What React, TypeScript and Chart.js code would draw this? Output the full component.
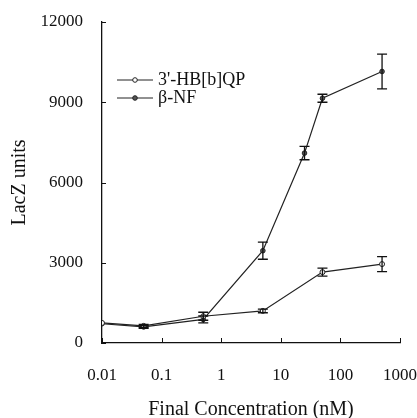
import React, { useEffect, useRef } from "react";
import { Chart, registerables } from "chart.js";
Chart.register(...registerables);

const hbConc = [0.01, 0.05, 0.5, 5, 50, 500];
const hbValues = [750, 640, 1000, 1200, 2650, 2950];
const hbErrors = [0, 60, 150, 70, 150, 280];
const nfConc = [0.01, 0.05, 0.5, 5, 25, 50, 500];
const nfValues = [720, 600, 880, 3450, 7100, 9150, 10150];
const nfErrors = [0, 50, 130, 320, 250, 150, 650];
const seriesLabels = ["3'-HB[b]QP", "\u03B2-NF"];
const xTicks = [0.01, 0.1, 1, 10, 100, 1000];
const xTickLabels = ["0.01", "0.1", "1", "10", "100", "1000"];
const yTicks = [0, 3000, 6000, 9000, 12000];
const xTitle = "Final Concentration (nM)";
const yTitle = "LacZ units";

const FONT = "'Liberation Serif', 'Times New Roman', serif";

const errorBarPlugin = {
  id: "errorBars",
  afterDatasetsDraw(chart: any) {
    const ctx = chart.ctx;
    const xs = chart.scales.x;
    const ys = chart.scales.y;
    const sets = [
      { c: hbConc, v: hbValues, e: hbErrors },
      { c: nfConc, v: nfValues, e: nfErrors },
    ];
    ctx.save();
    ctx.strokeStyle = "#111";
    ctx.lineWidth = 1.3;
    sets.forEach((s) => {
      s.c.forEach((c, i) => {
        const err = s.e[i];
        if (!err) return;
        const px = xs.getPixelForValue(c);
        const top = ys.getPixelForValue(s.v[i] + err);
        const bot = ys.getPixelForValue(s.v[i] - err);
        ctx.beginPath();
        ctx.moveTo(px, top);
        ctx.lineTo(px, bot);
        ctx.moveTo(px - 5, top);
        ctx.lineTo(px + 5, top);
        ctx.moveTo(px - 5, bot);
        ctx.lineTo(px + 5, bot);
        ctx.stroke();
      });
    });
    ctx.restore();
  },
};

const axisTickPlugin = {
  id: "inwardTicks",
  afterDraw(chart: any) {
    const ctx = chart.ctx;
    const xs = chart.scales.x;
    const ys = chart.scales.y;
    const area = chart.chartArea;
    ctx.save();
    ctx.strokeStyle = "#111";
    ctx.lineWidth = 1;
    ctx.beginPath();
    xTicks.forEach((t) => {
      const px = Math.round(xs.getPixelForValue(t)) + 0.5;
      ctx.moveTo(px, area.bottom);
      ctx.lineTo(px, area.bottom - 5);
    });
    yTicks.forEach((t) => {
      const py = Math.round(ys.getPixelForValue(t)) + 0.5;
      ctx.moveTo(area.left, py);
      ctx.lineTo(area.left + 4, py);
    });
    ctx.stroke();
    ctx.restore();
  },
};

const legendPlugin = {
  id: "insideLegend",
  afterDraw(chart: any) {
    const ctx = chart.ctx;
    const area = chart.chartArea;
    ctx.save();
    ctx.font = `18px ${FONT}`;
    ctx.fillStyle = "#111";
    ctx.textBaseline = "middle";
    seriesLabels.forEach((label, i) => {
      const y = 80 + i * 18;
      const x0 = area.left + 15;
      const x1 = area.left + 51;
      ctx.strokeStyle = "#222";
      ctx.lineWidth = 1;
      ctx.beginPath();
      ctx.moveTo(x0, y);
      ctx.lineTo(x1, y);
      ctx.stroke();
      ctx.beginPath();
      ctx.arc((x0 + x1) / 2, y, 2.3, 0, Math.PI * 2);
      ctx.fillStyle = i === 0 ? "#fff" : "#555";
      ctx.fill();
      ctx.stroke();
      ctx.fillStyle = "#111";
      ctx.fillText(label, x1 + 5, y);
    });
    ctx.restore();
  },
};

export default function App() {
  const ref = useRef<HTMLCanvasElement>(null);
  useEffect(() => {
    document.body.style.margin = "0";
    const chart = new Chart(ref.current!, {
      type: "line",
      data: {
        datasets: [
          {
            label: seriesLabels[0],
            data: hbConc.map((c, i) => ({ x: c, y: hbValues[i] })),
            borderColor: "#222",
            borderWidth: 1.2,
            pointRadius: 2.5,
            pointBackgroundColor: "#fff",
            pointBorderColor: "#222",
            pointBorderWidth: 1,
            tension: 0,
          },
          {
            label: seriesLabels[1],
            data: nfConc.map((c, i) => ({ x: c, y: nfValues[i] })),
            borderColor: "#222",
            borderWidth: 1.2,
            pointRadius: 2.3,
            pointBackgroundColor: "#555",
            pointBorderColor: "#222",
            pointBorderWidth: 1,
            tension: 0,
          },
        ],
      },
      options: {
        animation: false,
        responsive: false,
        maintainAspectRatio: false,
        layout: { padding: { top: 22, right: 17, left: 0, bottom: 0 } },
        plugins: { legend: { display: false }, tooltip: { enabled: false } },
        scales: {
          x: {
            type: "logarithmic",
            min: 0.01,
            max: 1000,
            afterBuildTicks: (s: any) => {
              s.ticks = xTicks.map((v) => ({ value: v }));
            },
            afterFit: (s: any) => {
              s.height = 75;
              s.paddingLeft = 0;
              s.paddingRight = 0;
            },
            grid: { display: false, drawTicks: false, tickLength: 0 },
            border: { display: true, color: "#111", width: 1.3 },
            ticks: {
              color: "#111",
              font: { family: FONT, size: 17 },
              padding: 22,
              maxRotation: 0,
              autoSkip: false,
              callback: (v: any) => {
                const idx = xTicks.indexOf(Number(v));
                return idx >= 0 ? xTickLabels[idx] : "";
              },
            },
            title: {
              display: true,
              text: xTitle,
              color: "#111",
              font: { family: FONT, size: 20, lineHeight: 1 },
              padding: { top: 10, bottom: -2 },
            },
          },
          y: {
            type: "linear",
            min: 0,
            max: 12000,
            afterBuildTicks: (s: any) => {
              s.ticks = yTicks.map((v) => ({ value: v }));
            },
            afterFit: (s: any) => {
              s.width = 102;
              s.paddingTop = 0;
              s.paddingBottom = 0;
            },
            grid: { display: false, drawTicks: false, tickLength: 0 },
            border: { display: true, color: "#111", width: 1.3 },
            ticks: {
              color: "#111",
              font: { family: FONT, size: 17 },
              padding: 19,
              callback: (v: any) => String(v),
            },
            title: {
              display: true,
              text: yTitle,
              color: "#111",
              font: { family: FONT, size: 20, lineHeight: 1 },
              padding: { top: 10, bottom: 0 },
            },
          },
        },
      },
      plugins: [errorBarPlugin, axisTickPlugin, legendPlugin],
    } as any);
    return () => chart.destroy();
  }, []);
  return (
    <div style={{ position: "absolute", left: 0, top: 0, width: 417, height: 418, background: "#fff" }}>
      <canvas ref={ref} width={417} height={418} />
    </div>
  );
}
